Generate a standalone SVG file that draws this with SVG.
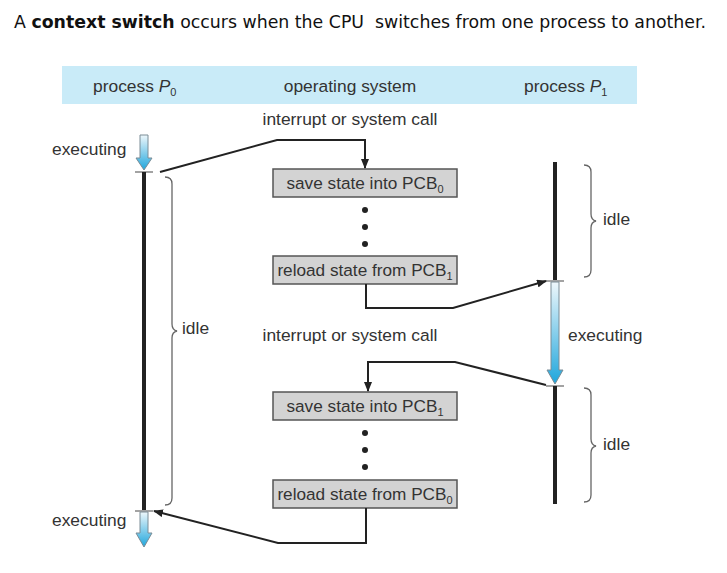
<svg xmlns="http://www.w3.org/2000/svg" width="727" height="573" viewBox="0 0 727 573">
<defs>
<linearGradient id="g" x1="0" y1="0" x2="0" y2="1">
<stop offset="0" stop-color="#eef7fb"/>
<stop offset="1" stop-color="#1fa6dc"/>
</linearGradient>
<marker id="ah" markerWidth="10" markerHeight="8" refX="9" refY="4" orient="auto" markerUnits="userSpaceOnUse">
<path d="M0,0 L10,4 L0,8 Z" fill="#222"/>
</marker>
<style>
.t{font-family:"Liberation Sans",Arial,sans-serif;font-size:17.4px;fill:#333}
.bt{font-family:"Liberation Sans",Arial,sans-serif;font-size:17.2px;fill:#333}
.sub{font-size:11px}
.box{fill:#d3d3d3;stroke:#555;stroke-width:1.5}
.conn{fill:none;stroke:#222;stroke-width:2}
.tl{stroke:#222;stroke-width:4}
.tick{stroke:#666;stroke-width:1.2}
.br{fill:none;stroke:#666;stroke-width:1.3}
.arr{fill:url(#g);stroke:#7a8c96;stroke-width:1}
.dot{fill:#222}
</style>
</defs>
<rect width="727" height="573" fill="#fff"/>
<text x="14" y="28" font-family="DejaVu Sans,Verdana,sans-serif" font-size="17.5" fill="#111" textLength="692" lengthAdjust="spacingAndGlyphs">A <tspan font-weight="bold">context switch</tspan> occurs when the CPU&#160; switches from one process to another.</text>
<g id="header">
<rect x="62" y="66" width="575" height="38" fill="#c9ebf8"/>
<text class="t" x="93" y="92">process <tspan font-style="italic">P</tspan><tspan class="sub" dy="4">0</tspan></text>
<text class="t" x="350" y="92" text-anchor="middle">operating system</text>
<text class="t" x="524" y="92">process <tspan font-style="italic">P</tspan><tspan class="sub" dy="4">1</tspan></text>
</g>
<g id="p0">
<path class="arr" d="M140,135 H148 V158 H152 L144,170 L136,158 H140 Z"/>
<line class="tick" x1="135" y1="172" x2="153" y2="172"/>
<line class="tl" x1="144" y1="172" x2="144" y2="510"/>
<line class="tick" x1="135" y1="511" x2="153" y2="511"/>
<path class="arr" d="M140,512 H148 V533 H152 L144,547 L136,533 H140 Z"/>
<text class="t" x="52" y="155">executing</text>
<text class="t" x="52" y="526">executing</text>
<path class="br" d="M165,177 Q172,177 172,184 V324 Q172,330 177,331 Q172,332 172,338 V498 Q172,505 165,505"/>
<text class="t" x="182" y="334">idle</text>
</g>
<g id="p1">
<line class="tl" x1="555" y1="162" x2="555" y2="280"/>
<line class="tick" x1="546" y1="281" x2="564" y2="281"/>
<path class="arr" d="M551,282 H559 V370 H563 L555,384 L547,370 H551 Z"/>
<line class="tick" x1="546" y1="386" x2="564" y2="386"/>
<line class="tl" x1="555" y1="386" x2="555" y2="504"/>
<text class="t" x="568" y="341">executing</text>
<path class="br" d="M584,165 Q591,165 591,172 V214 Q591,220 596,221 Q591,222 591,228 V270 Q591,277 584,277"/>
<text class="t" x="603" y="225">idle</text>
<path class="br" d="M584,388 Q591,388 591,395 V439 Q591,445 596,446 Q591,447 591,453 V495 Q591,502 584,502"/>
<text class="t" x="603" y="450">idle</text>
</g>
<g id="os">
<text class="t" x="350" y="125" text-anchor="middle">interrupt or system call</text>
<text class="t" x="350" y="341" text-anchor="middle">interrupt or system call</text>
<g id="save0">
<rect class="box" x="273" y="169" width="184" height="28"/>
<text class="bt" x="365" y="189" text-anchor="middle">save state into PCB<tspan class="sub" dy="4">0</tspan></text>
</g>
<circle class="dot" cx="365" cy="210" r="3"/>
<circle class="dot" cx="365" cy="227" r="3"/>
<circle class="dot" cx="365" cy="244" r="3"/>
<g id="reload1">
<rect class="box" x="273" y="256" width="184" height="28"/>
<text class="bt" x="365" y="276" text-anchor="middle">reload state from PCB<tspan class="sub" dy="4">1</tspan></text>
</g>
<g id="save1">
<rect class="box" x="273" y="392" width="184" height="28"/>
<text class="bt" x="365" y="412" text-anchor="middle">save state into PCB<tspan class="sub" dy="4">1</tspan></text>
</g>
<circle class="dot" cx="365" cy="433" r="3"/>
<circle class="dot" cx="365" cy="450" r="3"/>
<circle class="dot" cx="365" cy="467" r="3"/>
<g id="reload0">
<rect class="box" x="273" y="480" width="184" height="28"/>
<text class="bt" x="365" y="500" text-anchor="middle">reload state from PCB<tspan class="sub" dy="4">0</tspan></text>
</g>
</g>
<g id="connectors">
<path class="conn" d="M160,172 L277,140 H365 V168" marker-end="url(#ah)"/>
<path class="conn" d="M366,284 V308 H453 L546,281" marker-end="url(#ah)"/>
<path class="conn" d="M546,385 L455,362 H368 V391" marker-end="url(#ah)"/>
<path class="conn" d="M366,508 V543 H278 L154,511" marker-end="url(#ah)"/>
</g>
</svg>
